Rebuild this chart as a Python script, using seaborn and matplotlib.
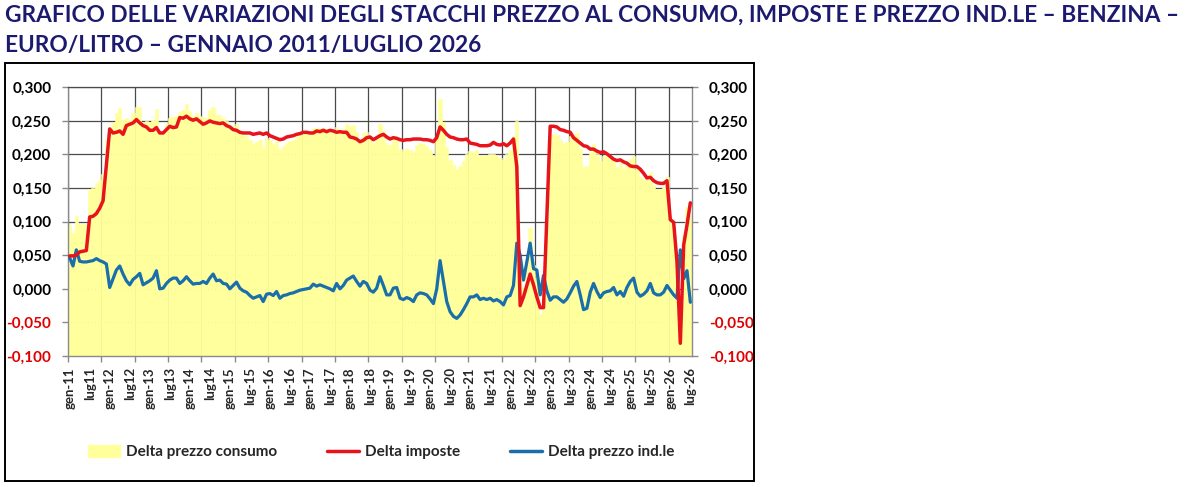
import numpy as np
import pandas as pd
import matplotlib
matplotlib.use("Agg")
import matplotlib.pyplot as plt
import seaborn as sns
from matplotlib.patches import Rectangle, Patch
from matplotlib.lines import Line2D

sns.set_theme(style="white")
plt.rcParams["font.family"] = ["Lato", "DejaVu Sans"]

# ---------------- data (euro/litre, monthly Jan-2011 .. Jul-2026) ----------------
tick_labels = ["gen-11", "lug11", "gen-12", "lug12", "gen-13", "lug13", "gen-14", "lug14",
               "gen-15", "lug-15", "gen-16", "lug-16", "gen-17", "lug-17", "gen-18", "lug-18",
               "gen-19", "lug-19", "gen-20", "lug-20", "gen-21", "lug-21", "gen-22", "lug-22",
               "gen-23", "lug-23", "gen-24", "lug-24", "gen-25", "lug-25", "gen-26", "lug-26"]

delta_imposte = [
    0.049, 0.049, 0.050, 0.055, 0.056, 0.057, 0.107, 0.108, 0.112, 0.120, 0.131, 0.185,
    0.238, 0.232, 0.233, 0.235, 0.230, 0.243, 0.245, 0.247, 0.252, 0.247, 0.243, 0.241,
    0.236, 0.236, 0.240, 0.232, 0.232, 0.237, 0.242, 0.240, 0.241, 0.255, 0.254, 0.257,
    0.253, 0.251, 0.253, 0.249, 0.245, 0.247, 0.250, 0.248, 0.247, 0.246, 0.247, 0.243,
    0.241, 0.237, 0.236, 0.233, 0.232, 0.232, 0.232, 0.230, 0.231, 0.232, 0.230, 0.232,
    0.228, 0.226, 0.224, 0.222, 0.223, 0.226, 0.227, 0.228, 0.230, 0.231, 0.233, 0.233,
    0.232, 0.232, 0.235, 0.234, 0.236, 0.234, 0.236, 0.235, 0.233, 0.234, 0.233, 0.233,
    0.226, 0.225, 0.223, 0.219, 0.221, 0.225, 0.226, 0.222, 0.225, 0.228, 0.230, 0.226,
    0.223, 0.225, 0.224, 0.222, 0.221, 0.222, 0.222, 0.223, 0.223, 0.223, 0.222, 0.222,
    0.221, 0.219, 0.225, 0.241, 0.236, 0.230, 0.226, 0.225, 0.223, 0.222, 0.222, 0.223,
    0.217, 0.216, 0.215, 0.213, 0.213, 0.213, 0.214, 0.218, 0.215, 0.214, 0.216, 0.213,
    0.217, 0.223, 0.182, -0.025, -0.012, 0.005, 0.022, 0.006, -0.012, -0.028, -0.028, 0.105,
    0.242, 0.242, 0.241, 0.237, 0.236, 0.234, 0.233, 0.225, 0.221, 0.217, 0.213, 0.212,
    0.208, 0.208, 0.205, 0.203, 0.204, 0.201, 0.197, 0.193, 0.191, 0.192, 0.189, 0.187,
    0.183, 0.182, 0.182, 0.178, 0.172, 0.165, 0.166, 0.161, 0.158, 0.157, 0.157, 0.161,
    0.103, 0.099, 0.040, -0.081, 0.065, 0.095, 0.128,
]

delta_industriale = [
    0.046, 0.034, 0.058, 0.041, 0.040, 0.040, 0.041, 0.042, 0.045, 0.042, 0.040, 0.037,
    0.002, 0.015, 0.028, 0.034, 0.022, 0.012, 0.006, 0.014, 0.018, 0.023, 0.006, 0.009,
    0.012, 0.016, 0.027, 0.000, 0.001, 0.008, 0.013, 0.016, 0.016, 0.008, 0.012, 0.018,
    0.012, 0.007, 0.008, 0.008, 0.011, 0.008, 0.016, 0.022, 0.012, 0.013, 0.008, 0.007,
    0.000, 0.005, 0.010, 0.001, -0.003, -0.005, -0.010, -0.014, -0.012, -0.010, -0.019, -0.008,
    -0.007, -0.010, -0.004, -0.014, -0.010, -0.009, -0.007, -0.006, -0.004, -0.002, -0.001, 0.000,
    0.001, 0.007, 0.004, 0.006, 0.004, 0.002, 0.000, -0.003, 0.008, 0.000, 0.005, 0.013,
    0.016, 0.019, 0.011, 0.004, 0.011, 0.008, -0.002, -0.005, 0.001, 0.018, 0.005, -0.009,
    -0.009, 0.001, 0.002, -0.014, -0.016, -0.013, -0.015, -0.019, -0.009, -0.006, -0.007, -0.009,
    -0.015, -0.022, 0.000, 0.042, 0.012, -0.019, -0.034, -0.041, -0.044, -0.039, -0.031, -0.022,
    -0.012, -0.012, -0.009, -0.016, -0.014, -0.016, -0.014, -0.018, -0.016, -0.019, -0.024, -0.012,
    -0.010, 0.005, 0.068, 0.050, 0.013, 0.040, 0.068, 0.030, 0.028, -0.009, 0.020, -0.003,
    -0.017, -0.012, -0.012, -0.016, -0.020, -0.015, -0.006, 0.004, 0.011, -0.009, -0.031, -0.029,
    -0.005, 0.008, -0.004, -0.013, -0.006, -0.004, -0.003, 0.002, -0.009, -0.004, -0.011, 0.002,
    0.011, 0.016, -0.005, -0.011, -0.008, -0.003, 0.008, -0.006, -0.009, -0.009, -0.005, 0.005,
    -0.002, -0.009, -0.014, 0.058, 0.015, 0.027, -0.020,
]

delta_consumo = [
    0.095, 0.083, 0.108, 0.096, 0.096, 0.097, 0.148, 0.150, 0.157, 0.162, 0.171, 0.222,
    0.240, 0.247, 0.261, 0.269, 0.252, 0.255, 0.251, 0.261, 0.270, 0.270, 0.249, 0.250,
    0.248, 0.252, 0.267, 0.232, 0.233, 0.245, 0.255, 0.256, 0.257, 0.263, 0.266, 0.275,
    0.265, 0.258, 0.261, 0.257, 0.256, 0.255, 0.266, 0.270, 0.259, 0.259, 0.255, 0.250,
    0.241, 0.242, 0.246, 0.234, 0.229, 0.227, 0.222, 0.216, 0.219, 0.222, 0.211, 0.224,
    0.221, 0.216, 0.220, 0.208, 0.213, 0.217, 0.220, 0.222, 0.226, 0.229, 0.232, 0.233,
    0.233, 0.239, 0.239, 0.240, 0.240, 0.236, 0.236, 0.232, 0.241, 0.234, 0.238, 0.246,
    0.242, 0.244, 0.234, 0.223, 0.232, 0.233, 0.224, 0.217, 0.226, 0.246, 0.235, 0.217,
    0.214, 0.226, 0.226, 0.208, 0.205, 0.209, 0.207, 0.204, 0.214, 0.217, 0.215, 0.213,
    0.206, 0.197, 0.225, 0.283, 0.248, 0.211, 0.192, 0.184, 0.179, 0.183, 0.191, 0.201,
    0.205, 0.204, 0.206, 0.197, 0.199, 0.197, 0.200, 0.200, 0.199, 0.195, 0.192, 0.201,
    0.207, 0.228, 0.250, 0.025, 0.001, 0.045, 0.090, 0.036, 0.016, -0.037, -0.008, 0.102,
    0.225, 0.230, 0.229, 0.221, 0.216, 0.219, 0.227, 0.229, 0.232, 0.208, 0.182, 0.183,
    0.203, 0.216, 0.201, 0.190, 0.198, 0.197, 0.194, 0.195, 0.182, 0.188, 0.178, 0.189,
    0.194, 0.198, 0.177, 0.167, 0.164, 0.162, 0.174, 0.155, 0.149, 0.148, 0.152, 0.166,
    0.101, 0.090, 0.026, -0.023, 0.080, 0.122, 0.108,
]

title_line1 = "GRAFICO DELLE VARIAZIONI DEGLI STACCHI PREZZO AL CONSUMO, IMPOSTE E PREZZO IND.LE \u2013 BENZINA \u2013"
title_line2 = "EURO/LITRO \u2013 GENNAIO 2011/LUGLIO 2026"
series_names = ["Delta prezzo consumo", "Delta imposte", "Delta prezzo ind.le"]

# ---------------- figure ----------------
W, H = 1187, 487
n = len(delta_imposte)
df = pd.DataFrame({
    "mese": np.arange(n),
    "consumo": delta_consumo,
    "imposte": delta_imposte,
    "industriale": delta_industriale,
})

YMIN, YMAX = -0.1, 0.3
YELLOW = "#ffff9c"
RED = "#e8141c"
BLUE = "#1a6fab"
GRID = "#4a4a4a"
AXC = "#8a8a8a"

fig = plt.figure(figsize=(W / 100, H / 100), dpi=100)
fig.patch.set_facecolor("white")
ax = fig.add_axes([68 / W, 1 - 356 / H, (692 - 68) / W, (356 - 87.3) / H])
ax.set_facecolor("white")

# yellow columns (filled from the bottom of the axis)
ax.bar(df["mese"], df["consumo"] - YMIN, bottom=YMIN, width=1.0,
       color=YELLOW, edgecolor=YELLOW, linewidth=0.4, zorder=1)

sns.lineplot(data=df, x="mese", y="imposte", ax=ax, color=RED, lw=2.5,
             legend=False, zorder=4)
sns.lineplot(data=df, x="mese", y="industriale", ax=ax, color=BLUE, lw=2.3,
             legend=False, zorder=3)

ax.set_xlabel("")
ax.set_ylabel("")
ax.set_ylim(YMIN, YMAX)
ax.set_xlim(-0.5, n - 0.5)
ax.set_axisbelow(True)

# y axis: both sides
yt = [round(v, 3) + 0.0 for v in np.linspace(YMIN, YMAX, 9)]
ylab = [f"{v:.3f}".replace(".", ",") for v in yt]
ax.set_yticks(yt, ylab)
ax.tick_params(axis="y", which="major", left=True, right=True, labelleft=True,
               labelright=True, direction="out", length=4, width=1, color=AXC,
               labelsize=11, pad=8)
for t, v in zip(ax.yaxis.get_major_ticks(), yt):
    c = "#e00000" if v < 0 else "black"
    for lbl in (t.label1, t.label2):
        lbl.set_color(c)
        lbl.set_fontweight("bold")

# x axis: gridlines every 10 months, labels every 6 months
ax.set_xticks(np.arange(-0.5, n - 1, 10))
ax.set_xticks(df["mese"].to_numpy()[::6], tick_labels, minor=True)
ax.tick_params(axis="x", which="major", bottom=True, direction="out", length=4,
               width=1, color=AXC, labelbottom=False)
ax.tick_params(axis="x", which="minor", bottom=True, length=0, pad=8,
               labelsize=9.5, labelrotation=90)
for lbl in ax.get_xticklabels(minor=True):
    lbl.set_fontweight("bold")

ax.grid(axis="both", which="major", color=GRID, lw=0.9)
ax.grid(axis="x", which="minor", visible=False)

for side in ["left", "right", "bottom"]:
    ax.spines[side].set_visible(True)
    ax.spines[side].set_color(AXC)
    ax.spines[side].set_linewidth(1.0)
ax.spines["top"].set_visible(True)
ax.spines["top"].set_color(GRID)
ax.spines["top"].set_linewidth(0.9)

# legend
handles = [Patch(facecolor=YELLOW, edgecolor=YELLOW),
           Line2D([], [], color=RED, lw=2.5),
           Line2D([], [], color=BLUE, lw=2.5)]
fig.legend(handles, series_names, loc="center", bbox_to_anchor=(381 / W, 1 - 452 / H),
           ncol=3, frameon=False, handlelength=2.1, handleheight=0.9,
           handletextpad=0.35, columnspacing=3.3,
           prop={"family": ["Lato", "DejaVu Sans"], "weight": "bold", "size": 11})

# outer chart frame
fig.add_artist(Rectangle((5 / W, 1 - 481 / H), (754 - 5) / W, (481 - 63) / H,
                         transform=fig.transFigure, fill=False, ec="black", lw=1.4))

# title
TITLE_C = "#1c1a6e"
fig.text(5 / W, 1 - 22 / H, title_line1, ha="left", va="baseline",
         fontsize=16.3, fontweight="bold", color=TITLE_C)
fig.text(5 / W, 1 - 52 / H, title_line2, ha="left", va="baseline",
         fontsize=16.3, fontweight="bold", color=TITLE_C)

fig.savefig("out.png", dpi=100, facecolor="white")
